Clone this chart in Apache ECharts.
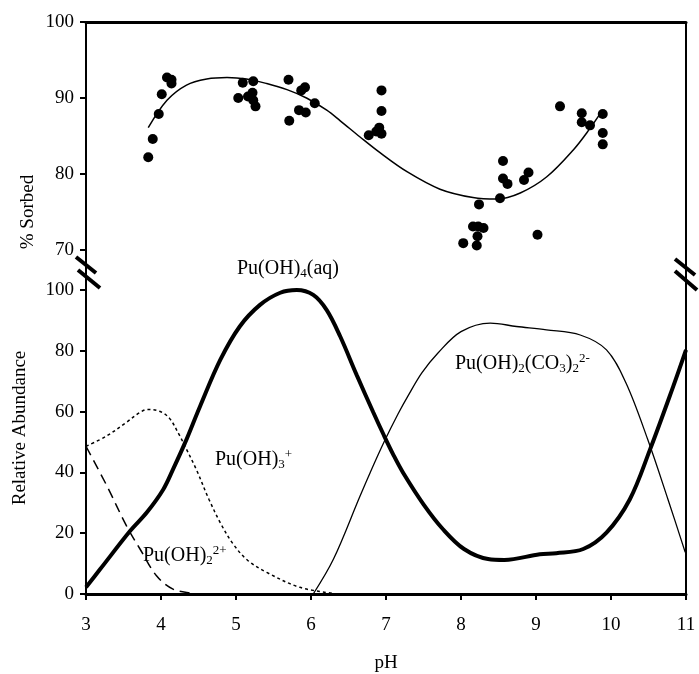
<!DOCTYPE html>
<html>
<head>
<meta charset="utf-8">
<script src="https://cdn.jsdelivr.net/npm/echarts@6/dist/echarts.min.js"></script>
<style>
    html, body { margin: 0; padding: 0; background: #fff; }
    #chart { width: 699px; height: 674px; }
</style>
</head>
<body>
<div id="chart"></div>
<script>
    // top panel: measured sorption
    const sorbedPH = [3.83, 3.89, 3.97, 4.01, 4.08, 4.14, 4.14, 5.03, 5.09, 5.23, 5.16, 5.22, 5.23, 5.26,
        5.70, 5.71, 5.87, 5.92, 5.84, 5.93, 6.05, 6.94, 6.94, 6.91, 6.77, 6.87, 6.94,
        8.56, 8.56, 8.62, 8.84, 8.90, 8.52, 8.24, 8.16, 8.23, 8.30, 8.22, 8.03, 8.21, 9.02,
        9.32, 9.61, 9.61, 9.72, 9.89, 9.89, 9.89];
    const sorbedPct = [82.2, 84.6, 87.9, 90.5, 92.7, 92.4, 91.9, 90.0, 92.0, 92.2, 90.2, 90.7, 89.7, 88.9,
        92.4, 87.0, 91.0, 91.4, 88.4, 88.1, 89.3, 91.0, 88.3, 86.1, 85.1, 85.6, 85.3,
        81.7, 79.4, 78.7, 79.2, 80.2, 76.8, 76.0, 73.1, 73.1, 72.9, 71.8, 70.9, 70.6, 72.0,
        88.9, 88.0, 86.8, 86.4, 87.9, 85.4, 83.9];

    // fitted curve
    const fitPH = [3.83, 4.08, 4.34, 4.61, 4.88, 5.14, 5.41, 5.68, 5.94, 6.21, 6.39, 6.65, 6.92, 7.28, 7.72,
        8.16, 8.48, 8.79, 9.14, 9.50, 9.72, 9.86];
    const fitPct = [86.1, 89.7, 91.7, 92.5, 92.7, 92.5, 91.9, 91.1, 90.0, 88.4, 87.0, 84.9, 82.8, 80.3, 78.0,
        76.9, 76.7, 77.5, 79.6, 83.2, 86.0, 88.0];

    // bottom panel: speciation
    const pu4PH = [3, 3.19, 3.59, 3.81, 4.03, 4.16, 4.32, 4.52, 4.79, 5.05, 5.32, 5.59, 5.81, 6.03, 6.21,
        6.39, 6.61, 6.83, 6.97, 7.10, 7.23, 7.50, 7.76, 8.04, 8.36, 8.58, 9.05, 9.27, 9.63, 9.94, 10.25, 10.52, 10.83, 11];
    const pu4Abund = [2.2, 8.2, 20.8, 26.8, 34.4, 41, 49.7, 61.7, 77.0, 88.0, 95.1, 99.1, 100, 98.4, 93.4,
        84.7, 72.0, 59.8, 52.3, 45.7, 39.8, 29.5, 21.3, 14.8, 11.5, 11.2, 13.1, 13.4, 14.8, 20.2, 31.1, 47.5, 68.3, 80.3];

    const carbPH = [6.03, 6.30, 6.65, 6.79, 6.98, 7.16, 7.29, 7.48, 7.69, 8.0, 8.39, 8.74, 9.14, 9.59, 9.94, 10.2, 10.49, 10.76, 10.99];
    const carbAbund = [0, 11.5, 32, 40, 50.3, 59.2, 65.0, 72.8, 79.2, 86.3, 89.1, 88, 86.9, 85.2, 80.3, 69.4, 50.8, 31.1, 13.7];

    const pu3PH = [3, 3.27, 3.53, 3.71, 3.82, 3.98, 4.11, 4.24, 4.33, 4.47, 4.64, 4.80, 4.96, 5.15, 5.41, 5.85, 6.30];
    const pu3Abund = [48.6, 51.9, 56.3, 59.6, 60.7, 60.1, 57.9, 52.5, 48.1, 41, 31.1, 23, 16.5, 11.2, 7.1, 2.2, 0.2];

    const pu2PH = [3, 3.28, 3.54, 3.72, 3.94, 4.16, 4.43, 4.5];
    const pu2Abund = [48.6, 35.5, 22.4, 14.8, 6.0, 1.6, 0.2, 0];

    const FONT = 'Liberation Serif';

    function pairs(xs, ys) {
        return xs.map((x, i) => [x, ys[i]]);
    }

    function label(x, y, text) {
        return {
            type: 'text', left: x, top: y,
            style: {
                text: text,
                rich: {
                    n: { fontFamily: FONT, fontSize: 20, lineHeight: 23, fill: '#000' },
                    s: { fontFamily: FONT, fontSize: 13, lineHeight: 13, verticalAlign: 'bottom', fill: '#000' },
                    p: { fontFamily: FONT, fontSize: 13, lineHeight: 13, verticalAlign: 'top', fill: '#000' }
                }
            }
        };
    }

    function seg(x1, y1, x2, y2, w) {
        return { type: 'line', shape: { x1, y1, x2, y2 }, style: { stroke: '#000', lineWidth: w } };
    }

    function curve(xs, ys, width, dash) {
        return {
            type: 'line', xAxisIndex: 1, yAxisIndex: 1,
            data: pairs(xs, ys), smooth: 0.35, showSymbol: false,
            lineStyle: { color: '#000', width: width, type: dash || 'solid' }
        };
    }

    const chart = echarts.init(document.getElementById('chart'));

    const tickLabel = { color: '#000', fontFamily: FONT, fontSize: 19 };

    chart.setOption({
        animation: false,
        grid: [
            { left: 86, top: 22, width: 600, height: 228 },
            { left: 86, top: 290, width: 600, height: 305 }
        ],
        xAxis: [
            {
                gridIndex: 0, type: 'value', min: 3, max: 11, position: 'top',
                axisLine: { lineStyle: { color: '#000', width: 3 } },
                axisTick: { show: false }, axisLabel: { show: false }, splitLine: { show: false }
            },
            {
                gridIndex: 1, type: 'value', min: 3, max: 11, interval: 1,
                axisLine: { lineStyle: { color: '#000', width: 3 } },
                axisTick: { length: 6, lineStyle: { color: '#000', width: 2 } },
                axisLabel: Object.assign({ margin: 22 }, tickLabel),
                splitLine: { show: false },
                name: 'pH', nameLocation: 'middle', nameGap: 60,
                nameTextStyle: { color: '#000', fontFamily: FONT, fontSize: 19 }
            }
        ],
        yAxis: [
            {
                gridIndex: 0, type: 'value', min: 70, max: 100, interval: 10,
                axisLine: { show: true, lineStyle: { color: '#000', width: 2 } },
                axisTick: { show: true, length: 6, lineStyle: { color: '#000', width: 2 } },
                axisLabel: Object.assign({ margin: 12 }, tickLabel),
                splitLine: { show: false }
            },
            {
                gridIndex: 1, type: 'value', min: 0, max: 100, interval: 20,
                axisLine: { show: true, lineStyle: { color: '#000', width: 2 } },
                axisTick: { show: true, length: 6, lineStyle: { color: '#000', width: 2 } },
                axisLabel: Object.assign({ margin: 12 }, tickLabel),
                splitLine: { show: false }
            }
        ],
        graphic: [
            // axis line through the break, right border
            seg(86, 250, 86, 290, 2),
            seg(686, 22, 686, 595, 2),
            // break marks
            seg(76, 257, 96, 273, 4),
            seg(78, 270, 100, 288, 4),
            seg(675, 259, 695, 275, 4),
            seg(675, 271, 697, 290, 4),
            // axis titles
            {
                type: 'text', x: 28, y: 212, rotation: Math.PI / 2,
                style: { text: '% Sorbed', fontFamily: FONT, fontSize: 19, fill: '#000', align: 'center', verticalAlign: 'middle' }
            },
            {
                type: 'text', x: 20, y: 428, rotation: Math.PI / 2,
                style: { text: 'Relative Abundance', fontFamily: FONT, fontSize: 19, fill: '#000', align: 'center', verticalAlign: 'middle' }
            },
            // species labels
            label(237, 259, '{n|Pu(OH)}{s|4}{n|(aq)}'),
            label(215, 448, '{n|Pu(OH)}{s|3}{p|+}'),
            label(143, 544, '{n|Pu(OH)}{s|2}{p|2+}'),
            label(455, 352, '{n|Pu(OH)}{s|2}{n|(CO}{s|3}{n|)}{s|2}{p|2-}')
        ],
        series: [
            {
                type: 'scatter', xAxisIndex: 0, yAxisIndex: 0,
                data: pairs(sorbedPH, sorbedPct),
                symbolSize: 10, itemStyle: { color: '#000', opacity: 1 }
            },
            {
                type: 'line', xAxisIndex: 0, yAxisIndex: 0,
                data: pairs(fitPH, fitPct), smooth: 0.35, showSymbol: false,
                lineStyle: { color: '#000', width: 1.5 }
            },
            curve(pu4PH, pu4Abund, 4),
            curve(carbPH, carbAbund, 1.3),
            curve(pu3PH, pu3Abund, 1.5, [3, 3]),
            curve(pu2PH, pu2Abund, 1.5, [10, 6])
        ]
    });
</script>
</body>
</html>
